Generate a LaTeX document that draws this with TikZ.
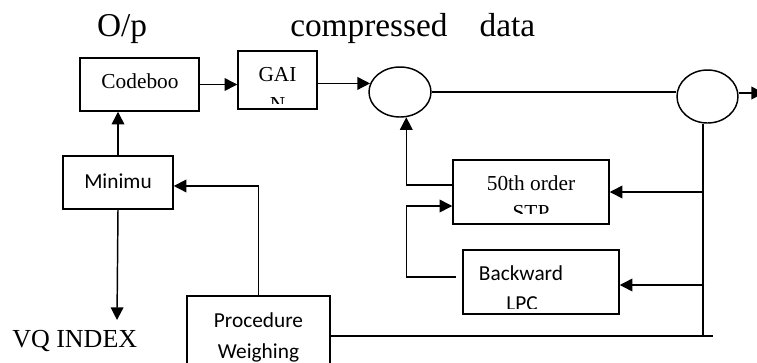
\documentclass[tikz,border=0pt]{standalone}
\usepackage{fontspec}
\setmainfont{Liberation Serif}
\newfontfamily\calibri{Carlito}
\usetikzlibrary{shapes.geometric,arrows.meta}

\tikzset{
  box/.style={draw, line width=1.1pt, inner sep=0pt},
  ring/.style={draw, ellipse, line width=1.1pt, inner sep=0pt},
  arr/.style={-{Triangle[length=9.5pt,width=9.5pt]}, line width=1.1pt},
  wire/.style={line width=1.1pt},
  sertext/.style={font=\fontsize{16}{19}\selectfont, anchor=base, inner sep=0pt},
  santext/.style={font=\calibri\fontsize{16}{19}\selectfont, anchor=base, inner sep=0pt},
  headtext/.style={font=\fontsize{25}{30}\selectfont, inner sep=0pt}
}

\begin{document}
\begin{tikzpicture}[x=0.75pt, y=-0.75pt]
  \useasboundingbox (0,0) rectangle (757,362);
  \clip (0,0) rectangle (757,362);

  % Heading
  \node[headtext, anchor=base] (op) at (122,36) {O/p};
  \node[headtext, anchor=base west] (cdata) at (290,36) {compressed\hspace{24pt}data};

  % Blocks
  \node[box, minimum width=89.25pt, minimum height=39.75pt] (codebook) at (139.5,84.5) {};
  \node[box, minimum width=59.25pt, minimum height=43.5pt] (gain) at (277.5,80) {};
  \node[box, minimum width=82.5pt, minimum height=39.75pt] (minimum) at (118,182.5) {};
  \node[box, minimum width=117pt, minimum height=48pt] (stp) at (531,192) {};
  \node[box, minimum width=117pt, minimum height=48pt] (lpc) at (541,282) {};
  \node[box, minimum width=107.25pt, minimum height=63pt] (weigh) at (258.5,338) {};

  % Adders
  \node[ring, minimum width=46.5pt, minimum height=37.5pt] (c1) at (400,92) {};
  \node[ring, minimum width=45.75pt, minimum height=39.75pt] (c2) at (707.5,96.5) {};

  % Block texts (cut off at the bottom of the boxes)
  \node[sertext] (cbtxt) at (140,88) {Codeboo};
  \node[santext] (mintxt) at (118,188) {Minimu};
  \begin{scope}
    \clip (238,51) rectangle (317,103);
    \node[sertext] (gaitop) at (277.5,81) {GAI};
    \node[sertext] (gaibot) at (277.5,111) {N};
  \end{scope}
  \begin{scope}
    \clip (453,160) rectangle (609,213);
    \node[sertext] (stptop) at (531,190) {50th order};
    \node[sertext] (stpbot) at (531,219) {STP};
  \end{scope}
  \begin{scope}
    \clip (463,250) rectangle (619,308);
    \node[santext] (lpctop) at (521,280) {Backward};
    \node[santext] (lpcbot) at (522,310) {LPC};
  \end{scope}
  \node[santext] (weightop) at (258.5,327) {Procedure};
  \node[santext] (weighbot) at (258.5,358) {Weighing};

  % Output label
  \node[font=\fontsize{19.5}{23}\selectfont, anchor=base west, inner sep=0pt] (vq) at (12,347) {VQ INDEX};

  % Free ends
  \coordinate (out) at (764,93);
  \coordinate (rjoin) at (703,336);
  \coordinate (bend) at (713,336);
  \coordinate (vqin) at (117,320);

  % Forward path
  \draw[arr] (codebook.east) -- (codebook.east -| gain.west);
  \draw[arr] (gain.east |- c1.164) -- (c1.164);
  \draw[wire] (c1.east) -- (c1.east -| c2.west);
  \draw[arr] (c2.east |- out) -- (out);

  % Right bus
  \draw[wire] (rjoin |- c2.south) -- (rjoin);
  \draw[wire] (weigh.east |- rjoin) -- (bend);
  \draw[arr] (rjoin |- stp.east) -- (stp.east);
  \draw[arr] ([xshift=1pt]rjoin |- lpc.east) ++(0,3) -- ([yshift=-2.25pt]lpc.east);

  % Feedback to the first adder
  \draw[arr] ([yshift=5.25pt]stp.west) -| (c1.-76);
  \draw[arr, shorten <=5pt] ([yshift=3.75pt]lpc.west) -- ++(-56,0) |- ([yshift=-10.5pt]stp.west);

  % Search loop
  \draw[arr] (weigh.north) |- ([yshift=-2.6pt]minimum.east);
  \draw[arr] (minimum.north) -- (minimum.north |- codebook.south);
  \draw[arr] (minimum.south) -- (vqin);

\end{tikzpicture}
\end{document}
